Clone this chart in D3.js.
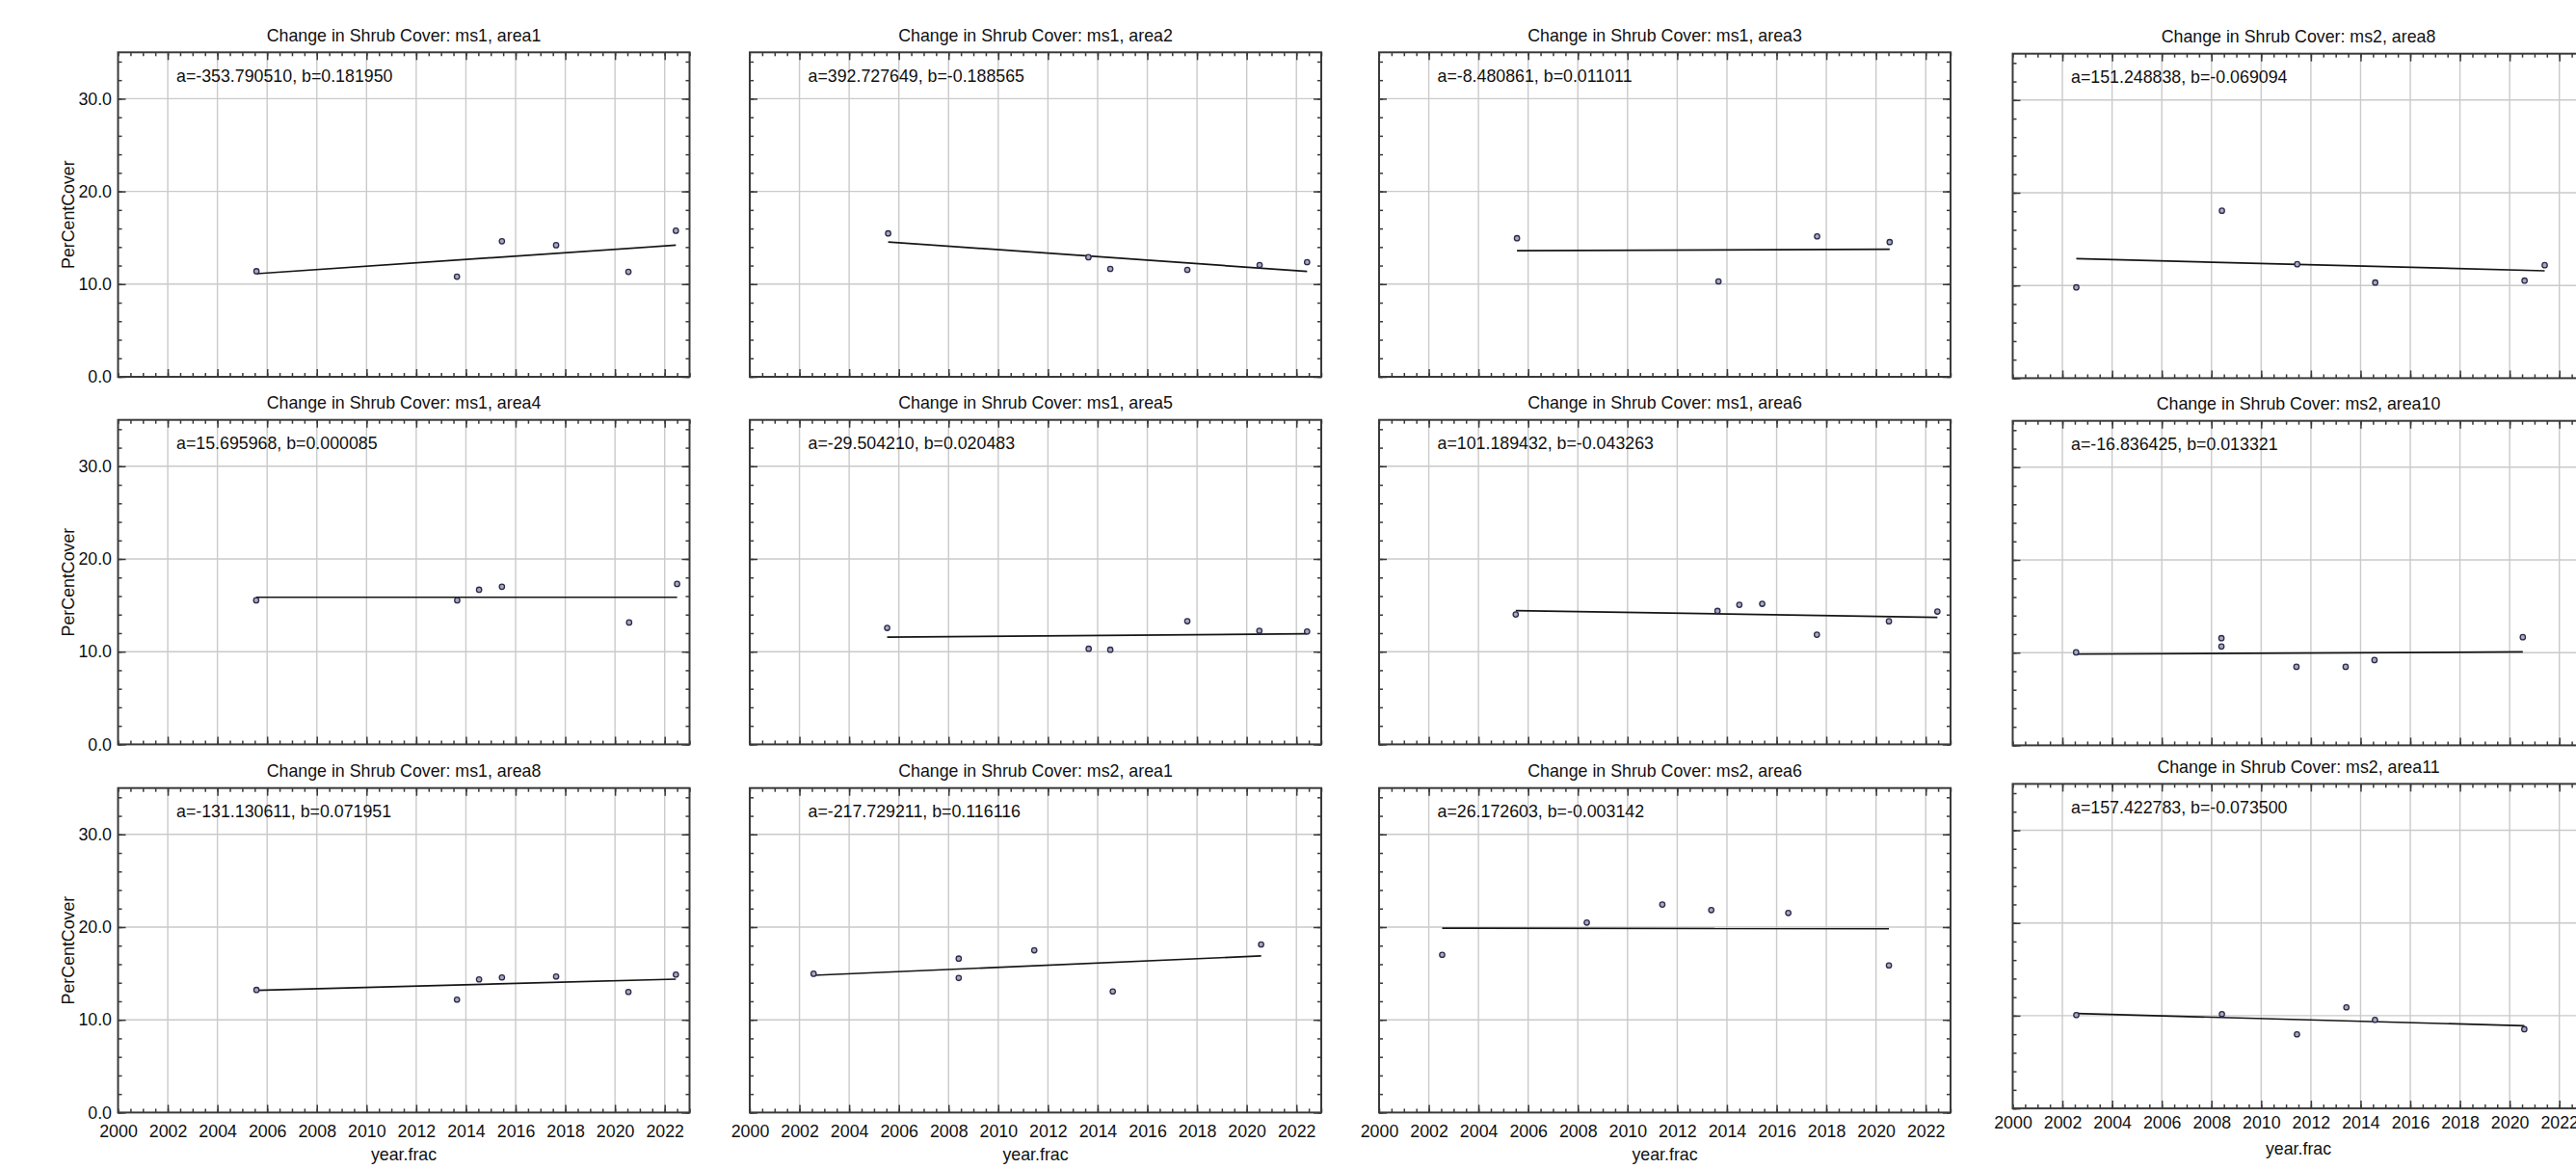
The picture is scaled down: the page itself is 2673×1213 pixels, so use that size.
<!DOCTYPE html>
<html>
<head>
<meta charset="utf-8">
<script src="https://cdn.jsdelivr.net/npm/d3@7"></script>
<style>
  html, body { margin: 0; padding: 0; background: #fff; overflow: hidden; }
  svg text { font-family: "Liberation Sans", Arial, sans-serif; fill: #111; }
</style>
</head>
<body>
<svg id="chart" width="2673" height="1213"></svg>
<script>
/* --------------------------------------------
 * Change in Shrub Cover - small multiples
 * ============================================
 */

// ==================================
// data
// ==================================
var panelNames = [
	"ms1, area1", "ms1, area2", "ms1, area3", "ms2, area8",
	"ms1, area4", "ms1, area5", "ms1, area6", "ms2, area10",
	"ms1, area8", "ms2, area1", "ms2, area6", "ms2, area11"
];

// fit coefficients printed in each panel: PerCentCover = a + b * year.frac
var fitA = [-353.790510, 392.727649, -8.480861, 151.248838,
	15.695968, -29.504210, 101.189432, -16.836425,
	-131.130611, -217.729211, 26.172603, 157.422783];
var fitB = [0.181950, -0.188565, 0.011011, -0.069094,
	0.000085, 0.020483, -0.043263, 0.013321,
	0.071951, 0.116116, -0.003142, -0.073500];

var yearFrac = [
	[2005.57, 2013.64, 2015.45, 2017.63, 2020.54, 2022.45],
	[2005.57, 2013.63, 2014.51, 2017.61, 2020.52, 2022.43],
	[2005.55, 2013.66, 2017.63, 2020.55],
	[2002.56, 2008.42, 2011.45, 2014.59, 2020.60, 2021.41],
	[2005.56, 2013.65, 2014.53, 2015.45, 2020.57, 2022.50],
	[2005.53, 2013.64, 2014.51, 2017.61, 2020.51, 2022.43],
	[2005.50, 2013.62, 2014.50, 2015.42, 2017.62, 2020.52, 2022.47],
	[2002.55, 2008.40, 2008.40, 2011.42, 2013.40, 2014.56, 2020.53],
	[2005.57, 2013.64, 2014.53, 2015.45, 2017.63, 2020.54, 2022.45],
	[2002.57, 2008.41, 2008.41, 2011.45, 2014.61, 2020.58],
	[2002.54, 2008.36, 2011.40, 2013.37, 2016.47, 2020.52],
	[2002.56, 2008.42, 2011.44, 2013.43, 2014.58, 2020.59]
];

var perCentCover = [
	[11.39, 10.80, 14.62, 14.20, 11.32, 15.76],
	[15.47, 12.90, 11.64, 11.54, 12.06, 12.37],
	[14.95, 10.29, 15.15, 14.53],
	[9.79, 18.06, 12.29, 10.31, 10.52, 12.19],
	[15.54, 15.54, 16.68, 17.00, 13.15, 17.31],
	[12.56, 10.31, 10.21, 13.29, 12.25, 12.18],
	[14.01, 14.39, 15.05, 15.16, 11.83, 13.28, 14.33],
	[10.03, 11.56, 10.66, 8.47, 8.47, 9.20, 11.67],
	[13.22, 12.18, 14.36, 14.57, 14.67, 13.01, 14.88],
	[14.97, 16.60, 14.51, 17.50, 13.06, 18.13],
	[17.01, 20.49, 22.43, 21.84, 21.53, 15.87],
	[10.07, 10.17, 7.99, 10.90, 9.55, 8.54]
];

// axes
var xDomain = [2000, 2023];
var yDomain = [0, 35];
var xLabelYears = [2000, 2002, 2004, 2006, 2008, 2010, 2012, 2014, 2016, 2018, 2020, 2022];
var xGridYears = [2002, 2004, 2006, 2008, 2010, 2012, 2014, 2016, 2018, 2020, 2022];
var xMinorYears = d3.range(4000, 4047).map(function(d) { return d / 2; });
var yLabelValues = [0, 10, 20, 30];
var yGridValues = [10, 20, 30];
var yMinorValues = d3.range(0, 36, 2);

// ==================================
// layout
// ==================================
var PLOT_W = 593;
var PLOT_H = 336.7;
var COL_X = [122.5, 778, 1431, 2088.5];
var ROW_Y = [54.3, 435.7, 817.7];
var COL4_SHIFT = [1.4, 1, -4.3];   // last column sits a little off in the original
var FONT = 17.8;
var AXIS_COLOR = "#3a3a3a";

var svg = d3.select("#chart");

function addTicks(sel, axis, values, size)
{
	sel.call(axis.tickValues(values).tickSize(size).tickFormat(""));
	sel.select(".domain").remove();
	sel.selectAll(".tick line")
		.attr("stroke", AXIS_COLOR)
		.attr("stroke-width", 1.5);
}

function styleLabels(sel)
{
	sel.select(".domain").remove();
	sel.selectAll(".tick line").remove();
	sel.attr("font-family", null).attr("font-size", null);
	sel.selectAll("text")
		.style("font-size", FONT + "px")
		.attr("fill", "#111");
}

function drawPanel(i)
{
	var row = Math.floor(i / 4);
	var col = i % 4;
	var left = COL_X[col];
	var top = ROW_Y[row] + (col == 3 ? COL4_SHIFT[row] : 0);

	var g = svg.append("g").attr("transform", "translate(" + left + "," + top + ")");

	var x = d3.scaleLinear().domain(xDomain).range([0, PLOT_W]);
	var y = d3.scaleLinear().domain(yDomain).range([PLOT_H, 0]);

	// grid
	g.append("g").selectAll("line").data(xGridYears).join("line")
		.attr("x1", function(d) { return x(d); })
		.attr("x2", function(d) { return x(d); })
		.attr("y1", 0)
		.attr("y2", PLOT_H)
		.attr("stroke", "#cacaca")
		.attr("stroke-width", 1.4);

	g.append("g").selectAll("line").data(yGridValues).join("line")
		.attr("x1", 0)
		.attr("x2", PLOT_W)
		.attr("y1", function(d) { return y(d); })
		.attr("y2", function(d) { return y(d); })
		.attr("stroke", "#cacaca")
		.attr("stroke-width", 1.4);

	// inward ticks on all four sides
	var bottom = g.append("g").attr("transform", "translate(0," + PLOT_H + ")");
	addTicks(bottom.append("g"), d3.axisBottom(x), xMinorYears, -4);
	addTicks(bottom.append("g"), d3.axisBottom(x), xGridYears, -8);

	var topAx = g.append("g");
	addTicks(topAx.append("g"), d3.axisTop(x), xMinorYears, -4);
	addTicks(topAx.append("g"), d3.axisTop(x), xGridYears, -8);

	var leftAx = g.append("g");
	addTicks(leftAx.append("g"), d3.axisLeft(y), yMinorValues, -4);
	addTicks(leftAx.append("g"), d3.axisLeft(y), yLabelValues, -8);

	var rightAx = g.append("g").attr("transform", "translate(" + PLOT_W + ",0)");
	addTicks(rightAx.append("g"), d3.axisRight(y), yMinorValues, -4);
	addTicks(rightAx.append("g"), d3.axisRight(y), yLabelValues, -8);

	// frame
	g.append("rect")
		.attr("width", PLOT_W)
		.attr("height", PLOT_H)
		.attr("fill", "none")
		.attr("stroke", AXIS_COLOR)
		.attr("stroke-width", 2);

	// fitted line over the span of the data
	var a = fitA[i], b = fitB[i];
	var span = d3.extent(yearFrac[i]);
	var line = d3.line()
		.x(function(d) { return x(d); })
		.y(function(d) { return y(a + b * d); });
	g.append("path")
		.attr("d", line(span))
		.attr("fill", "none")
		.attr("stroke", "#151515")
		.attr("stroke-width", 1.7);

	// observations
	var pts = yearFrac[i].map(function(d, k) { return [d, perCentCover[i][k]]; });
	g.append("g").selectAll("circle").data(pts).join("circle")
		.attr("cx", function(d) { return x(d[0]); })
		.attr("cy", function(d) { return y(d[1]); })
		.attr("r", 2.7)
		.attr("fill", "#a9a9bf")
		.attr("stroke", "#2a2a4c")
		.attr("stroke-width", 1.3);

	// title and coefficients
	g.append("text")
		.attr("x", PLOT_W / 2)
		.attr("y", -11.6)
		.attr("text-anchor", "middle")
		.style("font-size", FONT + "px")
		.text("Change in Shrub Cover: " + panelNames[i]);

	g.append("text")
		.attr("x", 60.5)
		.attr("y", 30.5)
		.style("font-size", FONT + "px")
		.text("a=" + a.toFixed(6) + ", b=" + b.toFixed(6));

	// y labels, first column only
	if (col == 0)
	{
		var yl = g.append("g");
		yl.call(d3.axisLeft(y).tickValues(yLabelValues).tickSize(0).tickPadding(6.5).tickFormat(d3.format(".1f")));
		styleLabels(yl);

		g.append("text")
			.attr("transform", "translate(-46," + (PLOT_H / 2) + ") rotate(-90)")
			.attr("text-anchor", "middle")
			.style("font-size", FONT + "px")
			.text("PerCentCover");
	}

	// x labels, bottom row only
	if (row == 2)
	{
		var pad = (col == 3) ? 7.8 : 12.9;
		var xl = g.append("g").attr("transform", "translate(0," + PLOT_H + ")");
		xl.call(d3.axisBottom(x).tickValues(xLabelYears).tickSize(0).tickPadding(pad).tickFormat(d3.format("d")));
		styleLabels(xl);

		g.append("text")
			.attr("x", PLOT_W / 2)
			.attr("y", PLOT_H + (col == 3 ? 48 : 49.5))
			.attr("text-anchor", "middle")
			.style("font-size", FONT + "px")
			.text("year.frac");
	}
}

for (var i = 0; i < panelNames.length; i++)
{
	drawPanel(i);
}
</script>
</body>
</html>
